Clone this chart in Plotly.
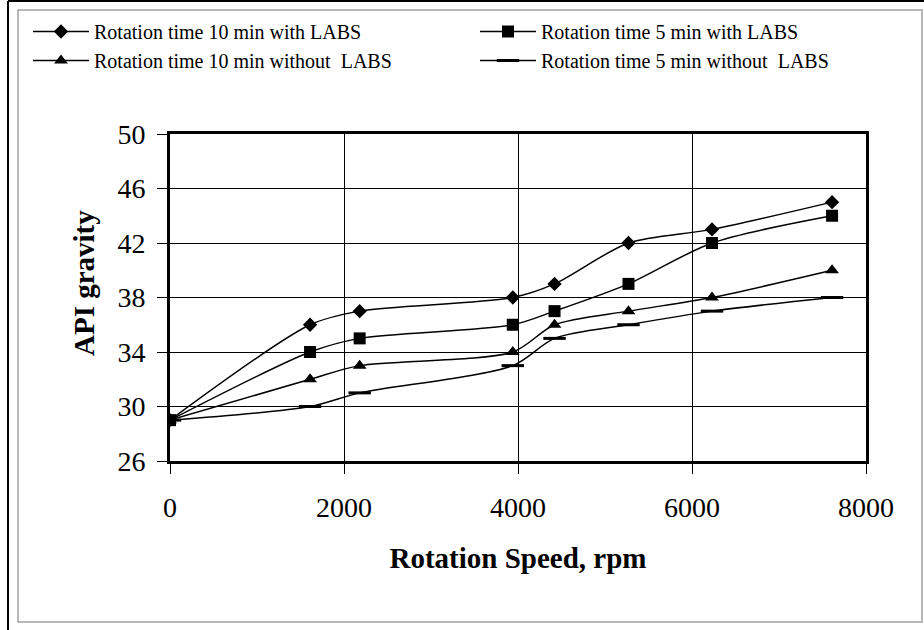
import plotly.graph_objects as go

speed = [0, 1610, 2180, 3940, 4420, 5270, 6230, 7610]
api_10_labs = [29, 36, 37, 38, 39, 42, 43, 45]
api_5_labs = [29, 34, 35, 36, 37, 39, 42, 44]
api_10_nolabs = [29, 32, 33, 34, 36, 37, 38, 40]
api_5_nolabs = [29, 30, 31, 33, 35, 36, 37, 38]

names = ["Rotation time 10 min with LABS", "Rotation time 5 min with LABS",
         "Rotation time 10 min without  LABS", "Rotation time 5 min without  LABS"]
series = [api_10_labs, api_5_labs, api_10_nolabs, api_5_nolabs]
symbols = ["diamond", "square", "triangle-up", "line-ew"]
sizes = [11, 12, 12, 16]
legend_ids = ["legend", "legend2", "legend", "legend2"]

x_ticks = [0, 2000, 4000, 6000, 8000]
y_ticks = [26, 30, 34, 38, 42, 46, 50]

SERIF = "Liberation Serif, Times New Roman, serif"

fig = go.Figure()
for nm, ys, sym, sz, lg in zip(names, series, symbols, sizes, legend_ids):
    marker = dict(symbol=sym, size=sz, color="black")
    if sym == "line-ew":
        marker["line"] = dict(color="black", width=3)
    fig.add_trace(go.Scatter(
        x=speed, y=ys, name=nm, mode="lines+markers", legend=lg,
        line=dict(color="black", width=1.5, shape="spline", smoothing=0.8),
        marker=marker,
    ))

L, T, W, H = 170, 134, 696, 327

def px(v):
    return (v - L) / W

def py(v):
    return (T + H - v) / H

shapes = [
    dict(type="rect", xref="paper", yref="paper", x0=px(18), x1=px(922), y0=py(622), y1=py(10),
         line=dict(color="#a0a0a0", width=1.5), layer="below"),
    dict(type="line", xref="paper", yref="paper", x0=px(8), x1=px(8), y0=py(640), y1=py(1),
         line=dict(color="black", width=2)),
    dict(type="line", xref="paper", yref="paper", x0=px(8), x1=px(930), y0=py(1), y1=py(1),
         line=dict(color="black", width=2)),
]

annotations = [
    dict(text="<b>API gravity</b>", textangle=-90, xref="paper", yref="paper",
         x=px(84), y=py(283), xanchor="center", yanchor="middle", showarrow=False,
         font=dict(family=SERIF, size=29, color="black")),
]

leg_common = dict(
    orientation="v", yanchor="top", xanchor="left", itemwidth=56,
    font=dict(family=SERIF, size=20, color="black"),
    bgcolor="rgba(0,0,0,0)", tracegroupgap=0,
)

fig.update_layout(
    width=924, height=630,
    margin=dict(l=L, r=924 - L - W, t=T, b=630 - T - H),
    paper_bgcolor="white", plot_bgcolor="white",
    font=dict(family=SERIF, color="black"),
    showlegend=True,
    legend=dict(x=px(28), y=py(12), **leg_common),
    legend2=dict(x=px(475), y=py(12), **leg_common),
    shapes=shapes,
    annotations=annotations,
    xaxis=dict(
        range=[0, 8000], tickvals=x_ticks, ticktext=[str(v) for v in x_ticks],
        showgrid=True, gridcolor="black", gridwidth=1,
        showline=True, linecolor="black", linewidth=3, mirror=True,
        ticks="outside", ticklen=10, tickcolor="black", tickwidth=1,
        tickfont=dict(family=SERIF, size=28, color="black"),
        ticklabelstandoff=9,
        title=dict(text="<b>Rotation Speed, rpm</b>", font=dict(family=SERIF, size=29, color="black"), standoff=27),
        zeroline=False,
    ),
    yaxis=dict(
        range=[26, 50], tickvals=y_ticks, ticktext=[str(v) for v in y_ticks],
        showgrid=True, gridcolor="black", gridwidth=1,
        showline=True, linecolor="black", linewidth=3, mirror=True,
        ticks="outside", ticklen=10, tickcolor="black", tickwidth=1,
        tickfont=dict(family=SERIF, size=28, color="black"),
        ticklabelstandoff=6,
        zeroline=False,
    ),
)

fig.write_html("out.html", config={"displayModeBar": False},
               post_script="document.body.style.margin='0';document.body.style.overflow='hidden';")
